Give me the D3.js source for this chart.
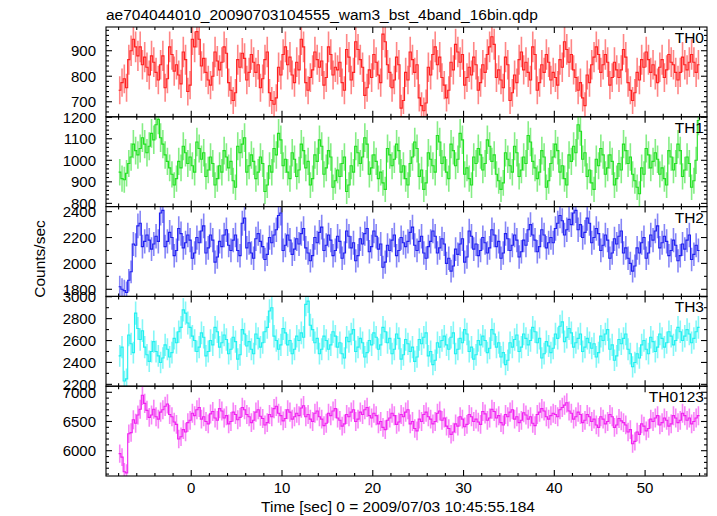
<!DOCTYPE html>
<html><head><meta charset="utf-8">
<script src="https://cdn.jsdelivr.net/npm/d3@7"></script>
<style>body{margin:0;background:#fff}svg{display:block}text{font-family:"Liberation Sans",Arial,Helvetica,sans-serif;fill:#000}</style>
</head><body><svg id="c" width="717" height="516"></svg>
<script>
const title = "ae704044010_20090703104555_wam3_bst_4band_16bin.qdp";
const xLabel = "Time [sec] 0 = 2009/07/03 10:45:55.184";
const yLabel = "Counts/sec";
const panelNames = ["TH0", "TH1", "TH2", "TH3", "TH0123"];
const tStart = -8, binWidth = 0.25;
const xTickLabels = [0, 10, 20, 30, 40, 50];
const yTicksTH0 = [700, 800, 900];
const yTicksTH1 = [800, 900, 1000, 1100, 1200];
const yTicksTH2 = [1800, 2000, 2200, 2400];
const yTicksTH3 = [2200, 2400, 2600, 2800, 3000];
const yTicksTH0123 = [6000, 6500, 7000];

const th0 = [
745,775,790,755,865,900,945,915,880,915,845,875,835,805,880,855,
815,785,845,880,755,790,915,885,820,845,805,770,895,865,740,765,
945,915,975,945,840,870,815,785,765,800,895,860,825,855,915,890,
775,745,705,735,865,835,890,870,785,815,885,855,815,845,755,790,
865,895,735,705,690,715,835,805,885,915,845,875,805,775,855,825,
945,915,775,745,795,825,895,865,835,860,765,795,915,885,805,835,
825,855,775,745,905,875,785,815,935,905,865,835,725,755,825,795,
885,855,805,775,965,935,845,815,755,785,875,845,675,705,815,785,
895,865,815,845,715,685,665,695,835,805,885,915,845,875,795,765,
715,745,855,825,925,895,855,885,765,795,835,805,875,845,745,775,
845,815,885,915,955,925,795,825,785,755,875,845,705,735,805,775,
865,895,825,855,815,785,915,885,745,775,845,815,885,855,785,815,
795,765,865,835,935,905,855,885,825,795,745,775,715,685,805,775,
845,875,915,885,815,845,885,855,765,795,855,825,795,825,905,875,
775,745,705,735,815,785,865,835,895,865,815,845,805,775,835,865,
795,825,885,855,845,815,785,815,875,845,825,855,885,855,815,845];

const th1 = [
945,915,910,940,985,1015,1075,1045,1025,1055,1105,1075,1035,1065,1125,1095,
1165,1190,1105,1075,1025,995,965,935,885,915,995,965,1065,1035,985,1015,
975,945,1085,1055,1005,1035,925,955,1015,985,885,915,975,945,1045,1015,
965,995,905,875,1065,1035,1075,1105,945,975,1025,995,915,945,1015,985,
855,885,975,945,1055,1025,1125,1095,975,1005,945,915,1035,1005,925,955,
1075,1045,965,995,885,915,1025,995,1095,1065,935,965,1045,1015,875,905,
955,925,985,1015,855,885,975,945,1065,1035,985,1015,1105,1075,935,965,
1025,995,915,945,895,865,1055,1025,975,1005,1075,1045,945,975,915,885,
985,1015,1085,1055,925,955,865,895,1035,1005,975,945,1115,1085,985,1015,
945,915,1075,1045,975,1005,1125,1095,935,965,915,885,1015,985,1055,1025,
955,985,1095,1065,995,1025,935,905,865,895,1035,1005,975,945,1065,1035,
925,955,1015,985,1115,1085,995,965,915,945,1045,1015,875,905,985,1015,
1075,1045,945,975,915,885,1025,995,1065,1035,1165,1135,1005,1035,925,955,
895,865,1005,975,1055,1025,935,965,1025,995,885,915,985,955,1075,1045,
985,1015,935,905,875,845,965,935,1055,1025,965,995,1035,1005,935,965,
915,885,1045,1015,955,985,1075,1045,925,955,1015,985,875,905,1000,1185];

const th2 = [
1820,1800,1790,1775,1870,1935,2150,2140,2290,2310,2130,2170,2220,2180,2110,2150,
2210,2170,2390,2410,2130,2170,2240,2200,2060,2100,2270,2230,2120,2160,2220,2180,
2040,2080,2200,2160,2250,2290,2080,2120,2220,2180,2010,2050,2170,2130,2220,2260,
2140,2100,2180,2220,2100,2060,2310,2350,2120,2160,2080,2040,2190,2230,2170,2130,
2030,2070,2200,2160,2220,2260,2370,2390,2100,2140,2220,2180,2070,2110,2190,2150,
2230,2270,2120,2080,2020,2060,2200,2160,2240,2280,2100,2140,2220,2180,2060,2100,
2210,2170,2040,2080,2250,2210,2120,2160,2020,2060,2190,2150,2230,2270,2090,2130,
2250,2210,2110,2150,1970,2010,2140,2100,2180,2220,2060,2100,2200,2160,2130,2170,
2240,2280,2140,2100,2170,2210,2080,2040,2130,2170,2250,2210,2080,2120,2190,2150,
2000,2040,1940,1980,2110,2070,2150,2190,2010,2050,2250,2210,2110,2150,2060,2100,
2200,2160,2080,2120,2260,2220,2130,2170,2040,2080,2230,2190,2100,2140,2220,2180,
2050,2090,2180,2140,2260,2300,2220,2180,2090,2130,2260,2220,2120,2160,2200,2160,
2270,2310,2370,2330,2220,2260,2340,2300,2390,2410,2260,2300,2200,2240,2350,2310,
2160,2200,2270,2230,2100,2140,2220,2180,2040,2080,2190,2150,2210,2250,2080,2120,
2040,2000,1940,1980,2120,2080,2160,2200,2040,2080,2220,2180,2250,2290,2120,2160,
2210,2170,2060,2100,2180,2140,2020,2060,2150,2110,2180,2220,2030,2070,2140,2100];

const th3 = [
2460,2540,2230,2250,2650,2570,2490,2850,2710,2610,2690,2540,2470,2410,2500,2590,
2500,2460,2400,2440,2560,2520,2450,2490,2620,2580,2680,2720,2880,2850,2760,2720,
2640,2600,2500,2540,2670,2630,2460,2500,2600,2560,2720,2680,2540,2580,2650,2610,
2480,2520,2630,2590,2430,2470,2700,2660,2550,2590,2520,2480,2660,2620,2540,2580,
2680,2720,2870,2900,2640,2600,2520,2560,2710,2670,2560,2600,2480,2520,2640,2600,
2670,2630,2930,2960,2740,2700,2580,2620,2480,2520,2640,2600,2520,2560,2680,2640,
2540,2580,2480,2440,2630,2590,2660,2700,2500,2540,2620,2580,2450,2490,2600,2560,
2670,2630,2520,2560,2720,2680,2580,2620,2480,2520,2660,2620,2430,2470,2610,2570,
2500,2540,2410,2450,2610,2570,2630,2670,2460,2500,2380,2420,2580,2540,2600,2640,
2560,2520,2630,2670,2480,2520,2620,2580,2700,2660,2500,2540,2430,2470,2600,2560,
2640,2600,2490,2530,2700,2660,2540,2580,2450,2490,2380,2420,2580,2540,2610,2650,
2500,2540,2660,2620,2560,2600,2720,2680,2580,2620,2440,2480,2590,2550,2490,2530,
2660,2620,2730,2770,2590,2630,2710,2670,2540,2580,2620,2660,2500,2540,2620,2580,
2530,2570,2450,2490,2640,2600,2660,2700,2520,2560,2420,2460,2610,2570,2620,2660,
2520,2480,2360,2400,2480,2440,2560,2600,2520,2480,2630,2590,2500,2540,2660,2620,
2540,2580,2680,2640,2560,2600,2720,2680,2600,2640,2700,2660,2580,2620,2680,2720];

const th0123 = [
5950,5890,5640,5620,6290,6310,6530,6470,6610,6710,6950,6810,6690,6570,6610,6710,
6580,6540,6660,6700,6760,6800,6620,6580,6490,6450,6200,6240,6360,6320,6480,6520,
6640,6600,6700,6740,6540,6580,6500,6460,6630,6670,6560,6520,6720,6680,6560,6600,
6460,6500,6660,6620,6530,6570,6740,6700,6620,6580,6480,6520,6660,6700,6590,6550,
6440,6480,6620,6580,6720,6760,6640,6600,6510,6550,6700,6660,6540,6580,6640,6600,
6730,6770,6580,6620,6540,6500,6640,6680,6580,6540,6430,6470,6640,6600,6680,6720,
6560,6520,6420,6460,6620,6580,6660,6700,6500,6540,6660,6620,6700,6740,6600,6560,
6640,6600,6460,6500,6400,6360,6520,6560,6640,6600,6450,6490,6620,6580,6660,6700,
6460,6500,6380,6340,6540,6500,6620,6660,6580,6540,6460,6500,6640,6680,6520,6560,
6420,6380,6280,6320,6460,6420,6580,6540,6410,6450,6620,6580,6500,6540,6490,6450,
6670,6630,6520,6560,6710,6670,6560,6600,6480,6440,6620,6580,6660,6700,6540,6580,
6480,6520,6650,6610,6540,6580,6470,6430,6620,6660,6720,6680,6580,6540,6600,6640,
6620,6580,6700,6740,6780,6820,6680,6640,6540,6580,6660,6620,6480,6520,6620,6580,
6500,6540,6440,6400,6580,6540,6460,6500,6620,6580,6400,6440,6550,6510,6480,6440,
6320,6360,6120,6160,6320,6280,6460,6420,6340,6380,6540,6500,6560,6600,6440,6480,
6560,6520,6420,6460,6600,6560,6480,6520,6640,6600,6520,6560,6460,6500,6560,6600];

const series = [th0, th1, th2, th3, th0123];
const yTicks = [yTicksTH0, yTicksTH1, yTicksTH2, yTicksTH3, yTicksTH0123];
const yDomains = [[641, 993], [785, 1202], [1745, 2439], [2183, 3003], [5567, 7104]];
const yMinorSteps = [20, 20, 100, 100, 100];
const colors = ["#ff2020", "#20e020", "#2020f0", "#20f0f0", "#f020f0"];

const svg = d3.select("#c");
svg.append("rect").attr("width", 717).attr("height", 516).attr("fill", "#fff");

const L = 106, R = 707, T = 27, B = 476;
const ph = (B - T) / 5;
const x = d3.scaleLinear().domain([-9.39, 56.82]).range([L, R]);

const defs = svg.append("defs");

series.forEach((vals, p) => {
  const top = T + p * ph, bot = top + ph;
  const y = d3.scaleLinear().domain(yDomains[p]).range([bot, top]);
  const col = colors[p];
  defs.append("clipPath").attr("id", "cp" + p).append("rect")
    .attr("x", L).attr("y", top).attr("width", R - L).attr("height", ph);
  const g = svg.append("g").attr("clip-path", "url(#cp" + p + ")");
  const data = vals.map((v, i) => ({ t: tStart + (i + 0.5) * binWidth, v: v, e: Math.sqrt(v / binWidth) }));
  g.selectAll("line.err").data(data).enter().append("line")
    .attr("x1", d => x(d.t)).attr("x2", d => x(d.t))
    .attr("y1", d => y(d.v - d.e)).attr("y2", d => y(d.v + d.e))
    .attr("stroke", col).attr("stroke-width", 1.6).attr("stroke-opacity", 0.55);
  const pts = [];
  data.forEach(d => { pts.push([d.t - binWidth / 2, d.v]); pts.push([d.t + binWidth / 2, d.v]); });
  const line = d3.line().x(d => x(d[0])).y(d => y(d[1]));
  g.append("path").attr("d", line(pts)).attr("fill", "none")
    .attr("stroke", col).attr("stroke-width", 1.1);

  const ax = svg.append("g").attr("stroke", "#000").attr("stroke-width", 1.1).attr("fill", "none");
  ax.append("rect").attr("x", L).attr("y", top).attr("width", R - L).attr("height", ph);
  for (let t = -8; t <= 56; t += 2) {
    const major = t % 10 === 0;
    const len = major ? 6 : 3;
    const xx = x(t);
    ax.append("line").attr("x1", xx).attr("x2", xx).attr("y1", bot).attr("y2", bot - len);
    ax.append("line").attr("x1", xx).attr("x2", xx).attr("y1", top).attr("y2", top + len);
  }
  const [d0, d1] = yDomains[p];
  const ms = yMinorSteps[p];
  for (let v = Math.ceil(d0 / ms) * ms; v <= d1; v += ms) {
    const major = yTicks[p].includes(v);
    const len = major ? 6 : 3;
    const yy = y(v);
    ax.append("line").attr("x1", L).attr("x2", L + len).attr("y1", yy).attr("y2", yy);
    ax.append("line").attr("x1", R).attr("x2", R - len).attr("y1", yy).attr("y2", yy);
  }
  yTicks[p].forEach(v => {
    svg.append("text").attr("x", 96).attr("y", y(v) + 5.3)
      .attr("text-anchor", "end").attr("font-size", 15).text(v);
  });
  svg.append("text").attr("x", 704).attr("y", top + 16)
    .attr("text-anchor", "end").attr("font-size", 15.5).text(panelNames[p]);
});

xTickLabels.forEach(t => {
  svg.append("text").attr("x", x(t)).attr("y", 492.5)
    .attr("text-anchor", "middle").attr("font-size", 15).text(t);
});

svg.append("text").attr("x", 106).attr("y", 19.5).attr("font-size", 15.5).text(title);
svg.append("text").attr("x", 398).attr("y", 512).attr("text-anchor", "middle")
  .attr("font-size", 15.5).text(xLabel);
svg.append("text").attr("transform", "translate(45,259) rotate(-90)")
  .attr("text-anchor", "middle").attr("font-size", 15.5).text(yLabel);
</script>
</body></html>
